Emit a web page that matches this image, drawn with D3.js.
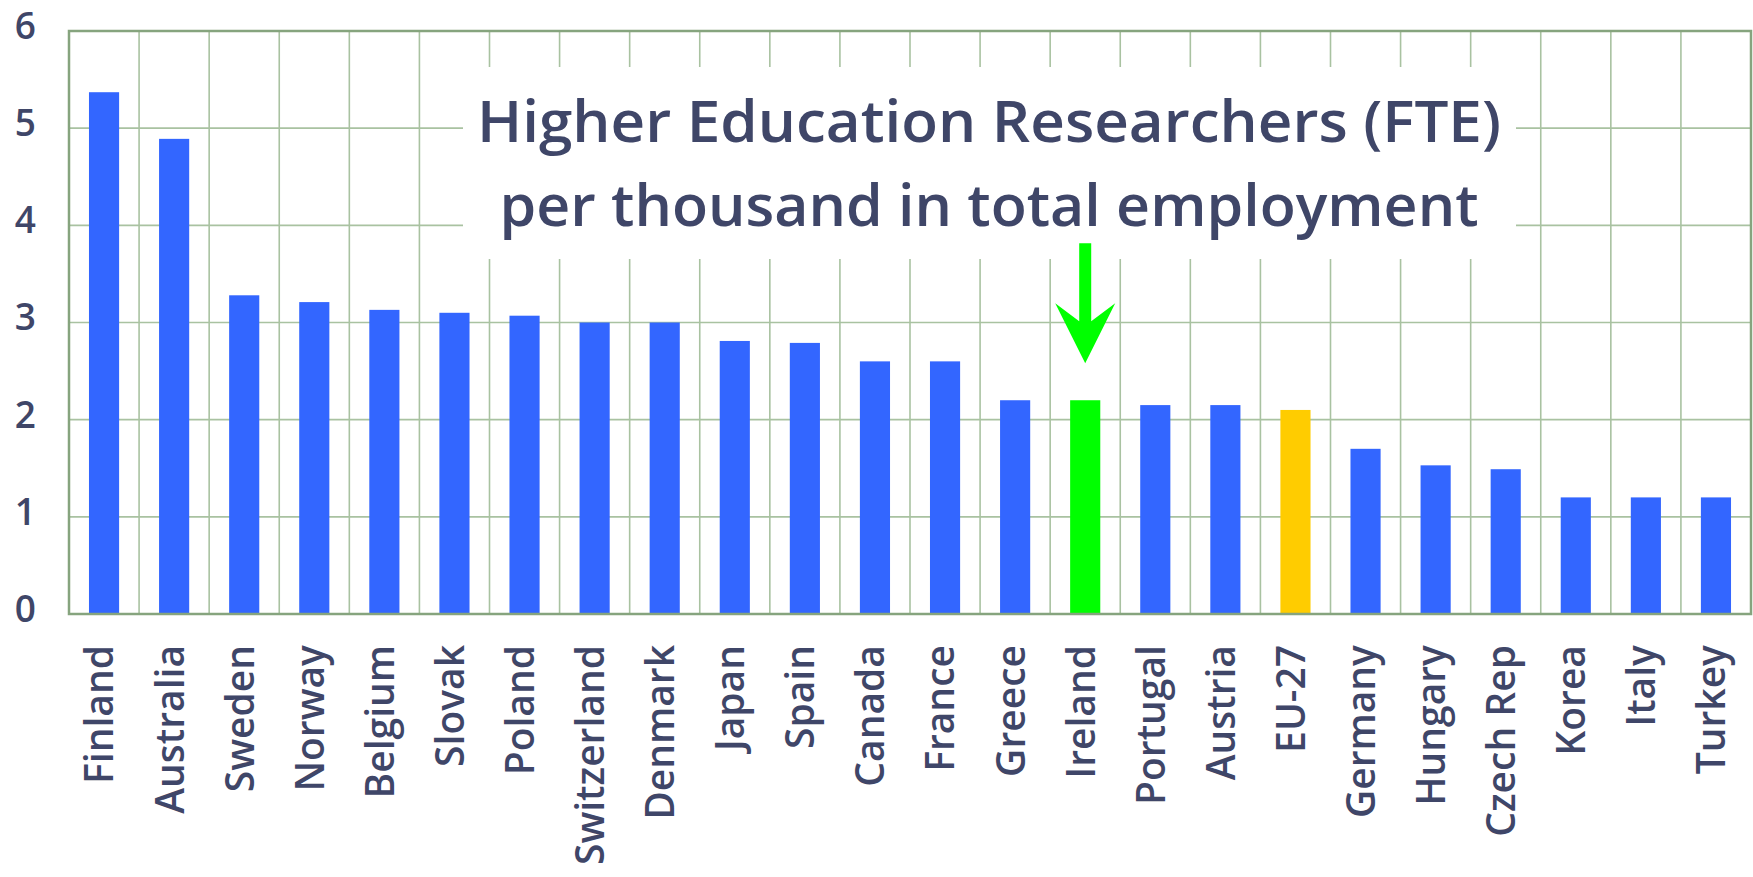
<!DOCTYPE html>
<html>
<head>
<meta charset="utf-8">
<script src="https://cdn.jsdelivr.net/npm/d3@7"></script>
<style>
  html, body { margin: 0; padding: 0; background: #ffffff; }
  svg { display: block; }
</style>
</head>
<body>
<svg id="chart" width="1753" height="877"></svg>
<script>
// Higher education researchers (FTE) per thousand in total employment
const countries = ["Finland", "Australia", "Sweden", "Norway", "Belgium", "Slovak", "Poland",
  "Switzerland", "Denmark", "Japan", "Spain", "Canada", "France", "Greece", "Ireland",
  "Portugal", "Austria", "EU-27", "Germany", "Hungary", "Czech Rep", "Korea", "Italy", "Turkey"];
const researchers = [5.37, 4.89, 3.28, 3.21, 3.13, 3.10, 3.07,
  3.00, 3.00, 2.81, 2.79, 2.60, 2.60, 2.20, 2.20,
  2.15, 2.15, 2.10, 1.70, 1.53, 1.49, 1.20, 1.20, 1.20];
const yTicks = [0, 1, 2, 3, 4, 5, 6];
const titleLines = ["Higher Education Researchers (FTE)", "per thousand in total employment"];
const highlighted = "Ireland";
const average = "EU-27";

const textColor = "#3f4668";
const barBlue = "#3366ff";
const barGreen = "#00ff00";
const barGold = "#ffcc00";
const gridColor = "#a9c2a1";
const frameColor = "#86a47e";
const font = "'Open Sans', sans-serif";

const svg = d3.select("#chart");
const plot = { left: 69, right: 1751, top: 31, bottom: 614 };

const x = d3.scaleBand().domain(countries).range([plot.left, plot.right]).padding(0);
const y = d3.scaleLinear().domain([0, 6]).range([plot.bottom, plot.top]);

// grid: horizontal lines at each unit, vertical lines between categories
const grid = svg.append("g");
grid.selectAll("line.h").data(yTicks.slice(1, -1)).join("line")
  .attr("x1", plot.left).attr("x2", plot.right)
  .attr("y1", d => y(d)).attr("y2", d => y(d))
  .attr("stroke", gridColor).attr("stroke-width", 1.6);
grid.selectAll("line.v").data(countries.slice(1)).join("line")
  .attr("x1", d => x(d)).attr("x2", d => x(d))
  .attr("y1", plot.top).attr("y2", plot.bottom)
  .attr("stroke", gridColor).attr("stroke-width", 1.6);

// bars
const barW = x.bandwidth() * 0.43;
svg.append("g").selectAll("rect").data(countries).join("rect")
  .attr("x", d => x(d) + (x.bandwidth() - barW) / 2)
  .attr("width", barW)
  .attr("y", (d, i) => y(researchers[i]))
  .attr("height", (d, i) => y(0) - y(researchers[i]))
  .attr("fill", d => d === highlighted ? barGreen : d === average ? barGold : barBlue);

// plot frame
svg.append("rect")
  .attr("x", plot.left).attr("y", plot.top)
  .attr("width", plot.right - plot.left).attr("height", plot.bottom - plot.top)
  .attr("fill", "none").attr("stroke", frameColor).attr("stroke-width", 2.5);

// y axis labels
const yAxis = d3.axisLeft(y).tickValues(yTicks).tickFormat(d3.format("d")).tickSize(0).tickPadding(0);
const yg = svg.append("g").attr("transform", `translate(36,0)`).call(yAxis);
yg.select(".domain").remove();
yg.selectAll("text")
  .attr("font-family", font)
  .attr("font-weight", 600)
  .attr("font-size", 37)
  .attr("fill", textColor)
  .attr("dy", "0.2em");

// x axis labels, rotated
const xAxis = d3.axisBottom(x).tickSize(0).tickPadding(0);
const xg = svg.append("g").attr("transform", `translate(0,${plot.bottom})`).call(xAxis);
xg.select(".domain").remove();
xg.selectAll("text")
  .attr("font-family", font)
  .attr("font-weight", 600)
  .attr("font-size", 39)
  .attr("fill", textColor)
  .attr("text-anchor", "end")
  .attr("transform", "translate(0,31) rotate(-90)")
  .attr("x", 0).attr("y", 0)
  .attr("dy", "0.24em");

// title panel over the grid
const titleBox = { x0: 463, x1: 1516, y0: 67, y1: 259 };
svg.append("rect")
  .attr("x", titleBox.x0).attr("y", titleBox.y0)
  .attr("width", titleBox.x1 - titleBox.x0).attr("height", titleBox.y1 - titleBox.y0)
  .attr("fill", "#ffffff");
const titleWidths = [1024, 979];
const titleBaselines = [142, 226];
svg.append("g").selectAll("text").data(titleLines).join("text")
  .attr("x", 989)
  .attr("y", (d, i) => titleBaselines[i])
  .attr("text-anchor", "middle")
  .attr("font-family", font)
  .attr("font-weight", 600)
  .attr("font-size", 58)
  .attr("fill", textColor)
  .attr("textLength", (d, i) => titleWidths[i])
  .attr("lengthAdjust", "spacingAndGlyphs")
  .text(d => d);

// arrow pointing at the highlighted bar
const hi = countries.indexOf(highlighted);
const ax = x(highlighted) + x.bandwidth() / 2;
const tipY = y(researchers[hi]) - 37;
const arrow = d3.path();
arrow.moveTo(ax - 6, tipY - 120);
arrow.lineTo(ax + 6, tipY - 120);
arrow.lineTo(ax + 6, tipY - 42);
arrow.lineTo(ax + 30, tipY - 60);
arrow.lineTo(ax, tipY);
arrow.lineTo(ax - 30, tipY - 60);
arrow.lineTo(ax - 6, tipY - 42);
arrow.closePath();
svg.append("path").attr("d", arrow.toString()).attr("fill", barGreen);
</script>
</body>
</html>
